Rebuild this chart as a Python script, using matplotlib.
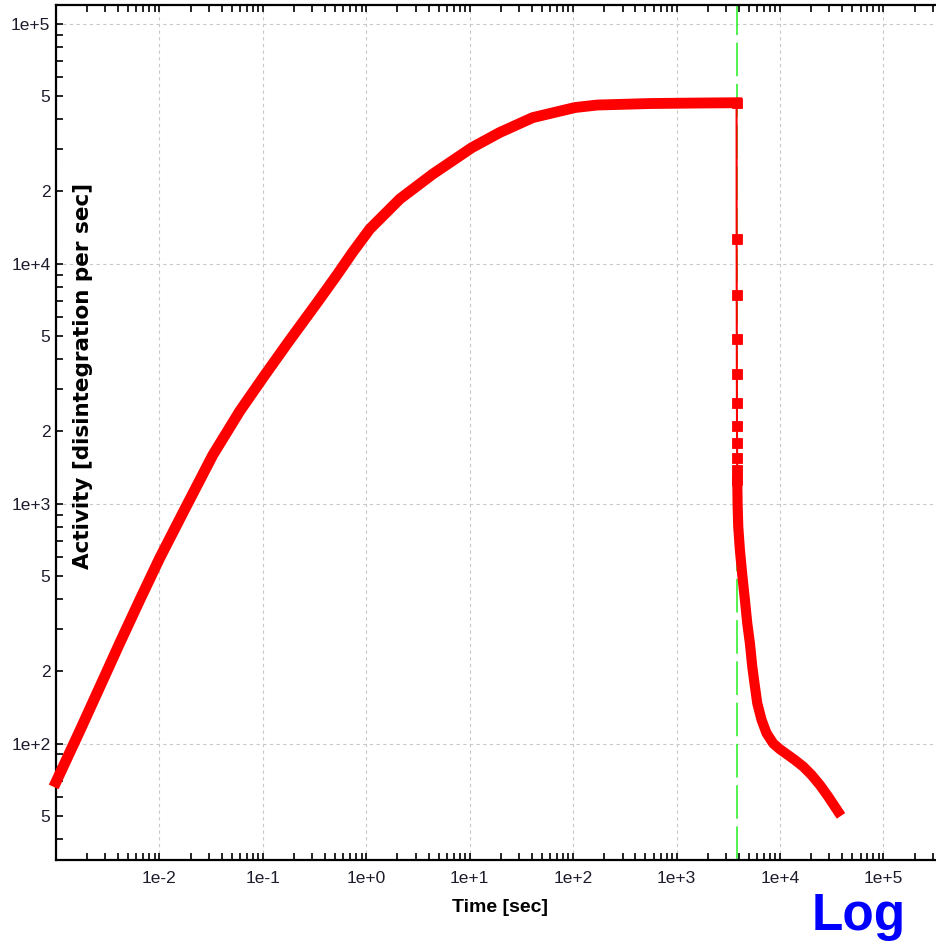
import numpy as np
import matplotlib
matplotlib.use('Agg')
import matplotlib.pyplot as plt
from matplotlib.ticker import LogLocator, FuncFormatter

# build-up during irradiation (time [s], activity [dis/s])
rise_t = [1.0e-3, 1.695e-3, 2.65e-3, 4.13e-3, 6.45e-3, 1.007e-2, 1.76e-2,
          3.28e-2, 5.98e-2, 0.1043, 0.182, 0.332, 0.519, 0.740, 1.081, 2.11,
          4.40, 10.48, 19.5, 40.7, 104, 170, 552, 1680, 3800]
rise_a = [69.1, 112.7, 172, 262, 396, 593, 948, 1592, 2427, 3428, 4800, 6840,
          8950, 11170, 13930, 18580, 23610, 30400, 35160, 40570, 44670, 45760,
          46430, 46660, 46780]

# first samples after the beam is switched off
drop_t = [3800, 3806, 3812, 3818, 3824, 3830, 3836, 3842, 3848, 3854, 3860]
drop_a = [46780, 12600, 7380, 4870, 3450, 2620, 2100, 1780, 1550, 1380, 1250]

# decay tail
tail_t = [3860, 3887, 3945, 4093, 4313, 4577, 4820, 5116, 5389, 5720, 6026,
          6632, 7413, 8601, 9977, 11570, 13940, 16770, 20200, 24320, 29280,
          36500]
tail_a = [1250, 1002, 800, 640, 504, 396, 317, 261, 209, 172.5, 147, 125.3,
          110.3, 100, 94.6, 90.4, 85.3, 80.1, 73.9, 67.1, 60.0, 52]

t_off = 3800  # end of irradiation [s]

red = '#ff0000'

fig = plt.figure(figsize=(9.36, 9.43), dpi=100)
ax = fig.add_axes([56/936, 83/943, 880/936, 855/943])

ax.axvline(t_off, color='#22ee22', lw=1.1, ls=(0, (22, 5)), zorder=1.5)

ax.plot(rise_t, rise_a, color=red, lw=7.8, solid_capstyle='projecting',
        solid_joinstyle='round', zorder=3, clip_on=False)
ax.plot(drop_t, drop_a, color=red, lw=1.5, marker='s', ms=6.6, mew=0.6,
        mec=red, zorder=3)
ax.plot(tail_t, tail_a, color=red, lw=7.3, solid_capstyle='projecting',
        solid_joinstyle='round', zorder=3)

ax.set_xscale('log')
ax.set_yscale('log')
ax.set_xlim(1.0e-3, 3.22e5)
ax.set_ylim(32.7, 1.195e5)

ax.xaxis.set_major_locator(LogLocator(base=10, numticks=20))
ax.xaxis.set_minor_locator(LogLocator(base=10, subs=np.arange(2, 10), numticks=20))
ax.yaxis.set_major_locator(LogLocator(base=10, numticks=20))
ax.yaxis.set_minor_locator(LogLocator(base=10, subs=np.arange(2, 10), numticks=20))


def x_fmt(v, pos):
    e = int(round(np.log10(v)))
    if e <= -3:
        return ''
    return '1e%+d' % e


def y_fmt(v, pos):
    e = int(round(np.log10(v)))
    if e <= 1:
        return ''
    return '1e%+d' % e


def minor_fmt(v, pos):
    m = v / 10 ** np.floor(np.log10(v) + 1e-9)
    m = int(round(m))
    return str(m) if m in (2, 5) else ''


ax.xaxis.set_major_formatter(FuncFormatter(x_fmt))
ax.xaxis.set_minor_formatter(FuncFormatter(lambda v, p: ''))
ax.yaxis.set_major_formatter(FuncFormatter(y_fmt))
ax.yaxis.set_minor_formatter(FuncFormatter(minor_fmt))

tick_col = '#1c1c2c'
for which in ('major', 'minor'):
    ax.tick_params(axis='both', which=which, direction='in', length=5, width=1.2,
                   top=True, right=False, labelsize=12.5, labelcolor=tick_col,
                   labelfontfamily='Liberation Sans')
ax.tick_params(axis='x', which='both', pad=8)
ax.tick_params(axis='y', which='both', pad=4)

ax.grid(which='major', color='#c8c8c8', ls=(0, (3, 3)), lw=0.8)
ax.set_axisbelow(True)

for s in ('left', 'bottom', 'top'):
    ax.spines[s].set_linewidth(1.6)
    ax.spines[s].set_color('black')
ax.spines['right'].set_visible(False)

fig.text(500/936, 1 - 908/943, 'Time [sec]', ha='center', va='center',
         fontsize=14, fontweight='bold', family='Liberation Sans')
fig.text(83/936, 1 - 376/943, 'Activity [disintegration per sec]', ha='center',
         va='center', rotation=90, fontsize=15.5, fontweight='bold',
         family='DejaVu Sans')
fig.text(812/936, 1 - 930/943, 'Log', ha='left', va='baseline', fontsize=37,
         fontweight='bold', color='#0000ff', family='Liberation Sans')

fig.savefig('out.png', dpi=100)
